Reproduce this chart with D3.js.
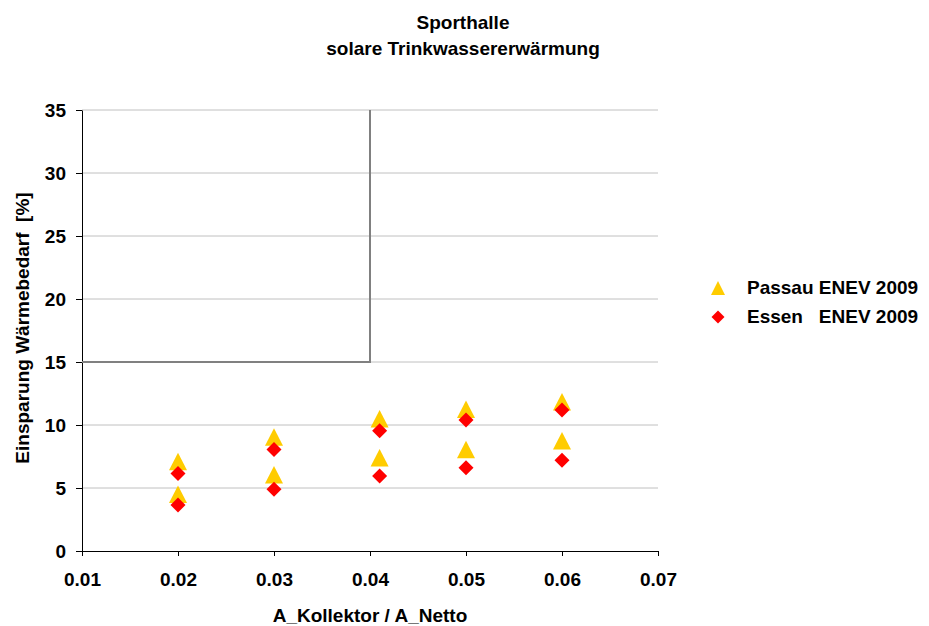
<!DOCTYPE html>
<html>
<head>
<meta charset="utf-8">
<script src="https://cdn.jsdelivr.net/npm/d3@7"></script>
<style>
body { margin: 0; background: #fff; }
text { font-family: "Liberation Sans", Arial, sans-serif; font-weight: bold; fill: #000; }
</style>
</head>
<body>
<div id="chart"></div>
<script>
// data
var xPasses = [0.02, 0.02, 0.03, 0.03, 0.041, 0.041, 0.05, 0.05, 0.06, 0.06];
var passau = [7.1, 4.5, 9.05, 6.05, 10.5, 7.4, 11.25, 8.05, 11.85, 8.75];
var essen = [6.15, 3.65, 8.05, 4.9, 9.55, 5.95, 10.4, 6.6, 11.2, 7.2];
var xTicks = [0.01, 0.02, 0.03, 0.04, 0.05, 0.06, 0.07];
var yTicks = [0, 5, 10, 15, 20, 25, 30, 35];
var limitLine = [[0.01, 15], [0.04, 15], [0.04, 35]];
var seriesNames = ["Passau ENEV 2009", "Essen   ENEV 2009"];

var W = 929, H = 626;
var margin = {top: 110, left: 82, right: 271, bottom: 75};
var width = W - margin.left - margin.right,
    height = H - margin.top - margin.bottom;
var fs = "19px";

var svg = d3.select("#chart")
    .append("svg")
    .attr("width", W)
    .attr("height", H);

var g = svg.append("g")
    .attr("transform", "translate(" + margin.left + "," + margin.top + ")");

var x = d3.scaleLinear().domain([0.01, 0.07]).range([0, width]);
var y = d3.scaleLinear().domain([0, 35]).range([height, 0]);

// gridlines
g.selectAll(".grid")
    .data(yTicks.slice(1))
    .enter()
    .append("line")
      .attr("x1", 0)
      .attr("x2", width)
      .attr("y1", function(d) { return y(d); })
      .attr("y2", function(d) { return y(d); })
      .attr("stroke", "#c0c0c0")
      .attr("stroke-width", 1);

// axes
var yAxis = g.append("g")
    .call(d3.axisLeft(y).tickValues(yTicks).tickSize(6).tickSizeOuter(0).tickFormat(d3.format("d")));
var xAxis = g.append("g")
    .attr("transform", "translate(0," + height + ")")
    .call(d3.axisBottom(x).tickValues(xTicks).tickSize(5).tickSizeOuter(0).tickFormat(d3.format(".2f")));

[xAxis, yAxis].forEach(function(a) {
    a.select(".domain").attr("stroke", "#000");
    a.selectAll(".tick line").attr("stroke", "#000");
    a.selectAll("text")
        .style("font-family", "'Liberation Sans', Arial, sans-serif")
        .style("font-weight", "bold")
        .style("font-size", fs)
        .attr("fill", "#000");
});
yAxis.selectAll("text").attr("x", -16).attr("dy", "0.36em");
xAxis.selectAll("text").attr("y", 35).attr("dy", 0);

// limit line
g.append("path")
    .datum(limitLine)
    .attr("fill", "none")
    .attr("stroke", "#808080")
    .attr("stroke-width", 2)
    .attr("d", d3.line()
        .x(function(d) { return x(d[0]); })
        .y(function(d) { return y(d[1]); }));

var tri = function(w, h) {
    return "M0," + (-h / 2) + "L" + (w / 2) + "," + (h / 2) + "L" + (-w / 2) + "," + (h / 2) + "Z";
};
var dia = function(s) {
    return "M0," + (-s) + "L" + s + ",0L0," + s + "L" + (-s) + ",0Z";
};

// Passau
g.append("g")
    .selectAll("path")
    .data(passau)
    .enter()
    .append("path")
      .attr("d", tri(18, 17.5))
      .attr("transform", function(d, i) { return "translate(" + x(xPasses[i]) + "," + y(d) + ")"; })
      .attr("fill", "#ffcc00");

// Essen
g.append("g")
    .selectAll("path")
    .data(essen)
    .enter()
    .append("path")
      .attr("d", dia(7.5))
      .attr("transform", function(d, i) { return "translate(" + x(xPasses[i]) + "," + y(d) + ")"; })
      .attr("fill", "#ff0000");

// titles
svg.append("text")
    .attr("x", 463).attr("y", 29)
    .attr("text-anchor", "middle")
    .style("font-size", fs)
    .text("Sporthalle");
svg.append("text")
    .attr("x", 463).attr("y", 55)
    .attr("text-anchor", "middle")
    .style("font-size", fs)
    .text("solare Trinkwassererwärmung");

svg.append("text")
    .attr("x", 370).attr("y", 622)
    .attr("text-anchor", "middle")
    .style("font-size", fs)
    .text("A_Kollektor / A_Netto");

svg.append("text")
    .attr("transform", "translate(29,328) rotate(-90)")
    .attr("text-anchor", "middle")
    .style("font-size", fs)
    .style("white-space", "pre")
    .text("Einsparung Wärmebedarf  [%]");

// legend
var legend = svg.append("g");
legend.append("path")
    .attr("d", tri(14, 14))
    .attr("transform", "translate(718,288)")
    .attr("fill", "#ffcc00");
legend.append("path")
    .attr("d", dia(6.5))
    .attr("transform", "translate(718,317)")
    .attr("fill", "#ff0000");
legend.selectAll("text")
    .data(seriesNames)
    .enter()
    .append("text")
      .attr("x", 747)
      .attr("y", function(d, i) { return 294 + i * 29; })
      .style("font-size", fs)
      .style("white-space", "pre")
      .text(function(d) { return d; });
</script>
</body>
</html>
